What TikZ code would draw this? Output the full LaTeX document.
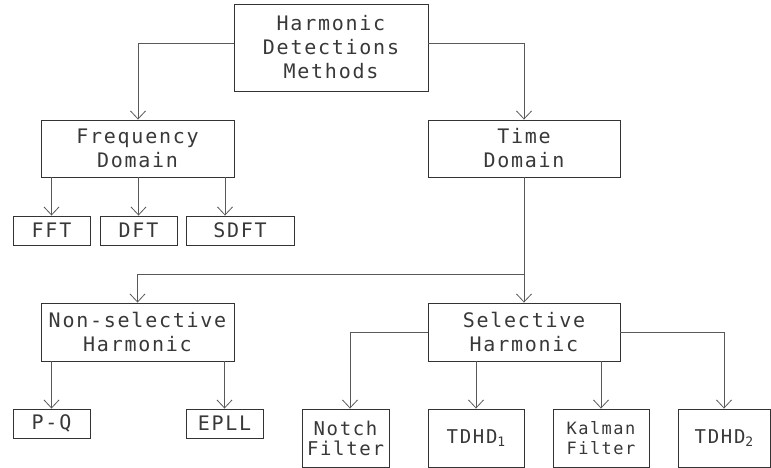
\documentclass[tikz,border=0pt]{standalone}
\usepackage{fontspec}
\usetikzlibrary{arrows.meta}
\newfontfamily\cadfont[LetterSpace=8.75]{DejaVu Sans Mono}
\newcommand{\subidx}[1]{{\fontsize{13}{13}\selectfont\raisebox{-3pt}{#1}}}
\begin{document}
\begin{tikzpicture}[x=1pt,y=-1pt,
  box/.style={draw=black!80, line width=0.9pt, rectangle, inner sep=0pt, align=center,
    text=black!78, font=\cadfont\fontsize{20}{24}\selectfont},
  smallbox/.style={box, font=\cadfont\fontsize{19}{20}\selectfont},
  tinybox/.style={box, font=\cadfont\fontsize{17}{20}\selectfont},
  conn/.style={draw=black!65, line width=0.9pt},
  arr/.style={conn, -{Straight Barb[length=8pt,width=15pt,line width=0.8pt]}}]
\useasboundingbox (0,0) rectangle (771,468);

% level 0
\node[box, minimum width=194pt, minimum height=87pt] (top) at (331,47.5) {Harmonic\\Detections\\Methods};

% level 1
\node[box, minimum width=193pt, minimum height=57pt] (freq) at (137.5,148.5) {Frequency\\Domain};
\node[box, minimum width=192pt, minimum height=57pt] (time) at (524,148.5) {Time\\Domain};

% frequency-domain methods
\node[box, minimum width=77pt, minimum height=29pt] (fft) at (51.5,230.5) {FFT};
\node[box, minimum width=77pt, minimum height=29pt] (dft) at (138.5,230.5) {DFT};
\node[box, minimum width=108pt, minimum height=29pt] (sdft) at (240,230.5) {SDFT};

% time-domain branches
\node[box, minimum width=193pt, minimum height=58pt] (nonsel) at (137.5,332) {Non-selective\\Harmonic};
\node[box, minimum width=192pt, minimum height=58pt] (sel) at (524,332) {Selective\\Harmonic};

% leaves
\node[box, minimum width=77pt, minimum height=29pt] (pq) at (51.5,423.5) {P-Q};
\node[box, minimum width=77pt, minimum height=29pt] (epll) at (224.5,423.5) {EPLL};
\node[smallbox, minimum width=87pt, minimum height=58pt] (notch) at (345.5,438) {Notch\\Filter};
\node[smallbox, minimum width=96pt, minimum height=58pt] (tdhd1) at (476,438) {TDHD\subidx{1}};
\node[tinybox, minimum width=96pt, minimum height=58pt] (kalman) at (601,438) {Kalman\\Filter};
\node[smallbox, minimum width=92pt, minimum height=58pt] (tdhd2) at (724,438) {TDHD\subidx{2}};

% routing points
\coordinate (jL) at (138,43);
\coordinate (jR) at (524,43);
\coordinate (jT) at (524,274);
\coordinate (xs) at (225,0);
\coordinate (xn) at (350,0);

% connectors
\draw[arr] (top.west |- jL) -- (jL) -- (freq.north -| jL);
\draw[arr] (top.east |- jR) -- (jR) -- (time.north);

\draw[arr] (freq.south -| fft.north) -- (fft.north);
\draw[arr] (freq.south -| dft.north) -- (dft.north);
\draw[arr] (freq.south -| xs) -- (sdft.north -| xs);

\draw[arr] (time.south) -- (sel.north);
\draw[arr] (jT) -- (jT -| nonsel.north) -- (nonsel.north);

\draw[arr] (nonsel.south -| pq.north) -- (pq.north);
\draw[arr] (nonsel.south -| epll.north) -- (epll.north);

\draw[arr] (sel.west) -- (sel.west -| xn) -- (notch.north -| xn);
\draw[arr] (sel.south -| tdhd1.north) -- (tdhd1.north);
\draw[arr] (sel.south -| kalman.north) -- (kalman.north);
\draw[arr] (sel.east) -- (sel.east -| tdhd2.north) -- (tdhd2.north);
\end{tikzpicture}
\end{document}
